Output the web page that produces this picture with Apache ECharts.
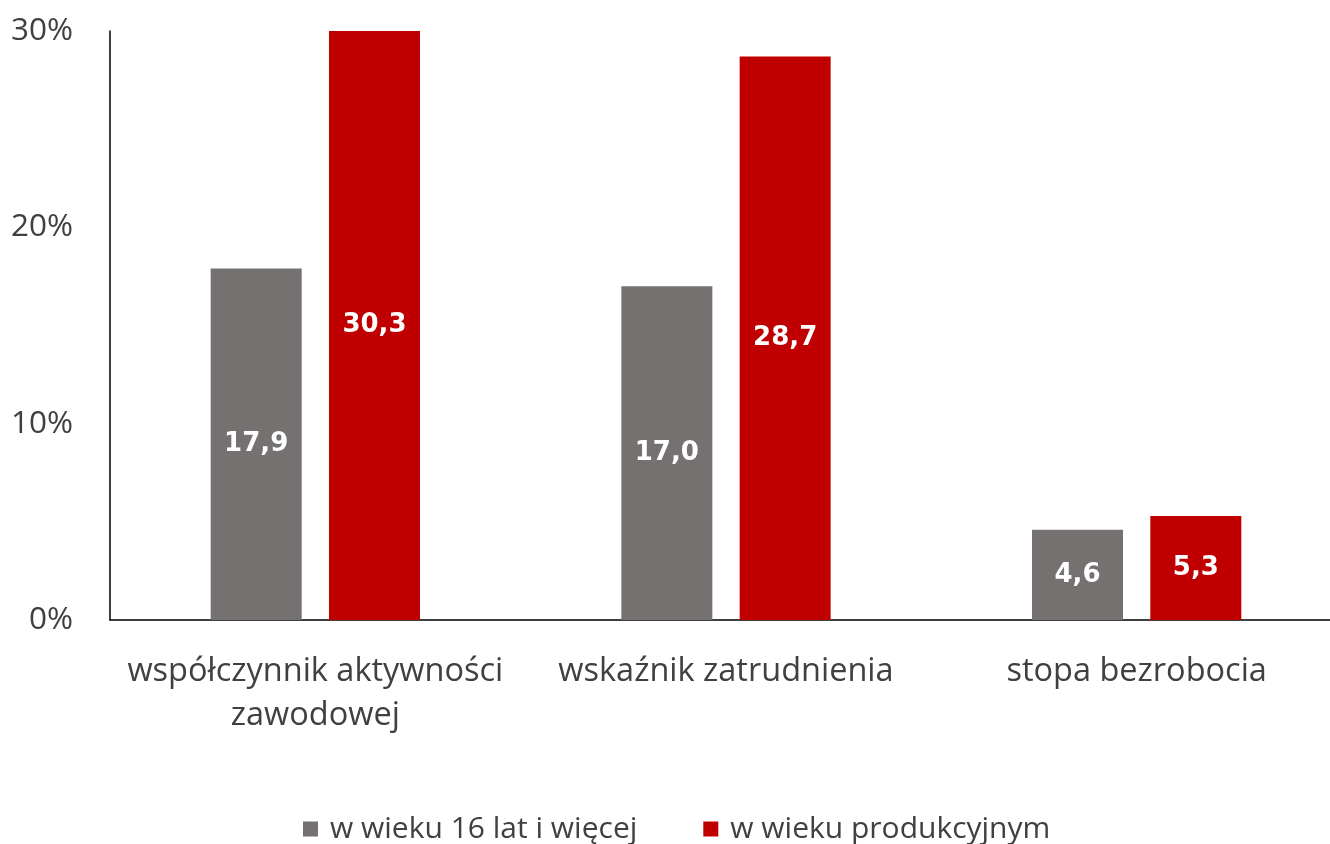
<!DOCTYPE html>
<html>
<head>
<meta charset="utf-8">
<script src="https://cdn.jsdelivr.net/npm/echarts@6/dist/echarts.min.js"></script>
<style>
  html, body { margin: 0; padding: 0; background: #fff; }
  #chart { width: 1330px; height: 844px; }
</style>
</head>
<body>
<div id="chart"></div>
<script>
// Labour market indicators by age group (%)
const categories = ['współczynnik aktywności\nzawodowej', 'wskaźnik zatrudnienia', 'stopa bezrobocia'];
const seriesNames = ['w wieku 16 lat i więcej', 'w wieku produkcyjnym'];
const valuesAll = [17.9, 17.0, 4.6];
const valuesWorkingAge = [30.3, 28.7, 5.3];
const yTicks = [0, 10, 20, 30];

const FONT = '"Open Sans", "Noto Sans", sans-serif';
const chart = echarts.init(document.getElementById('chart'), null, { renderer: 'canvas' });

const valueLabel = {
  show: true,
  position: 'inside',
  color: '#ffffff',
  fontFamily: '"DejaVu Sans", sans-serif',
  fontWeight: 'bold',
  fontSize: 26,
  formatter: p => p.value.toFixed(1).replace('.', ',')
};

chart.setOption({
  animation: false,
  grid: {
    left: 110, width: 1232, top: 31, bottom: 224,
    containLabel: false, outerBoundsMode: 'none'
  },
  legend: {
    top: 814,
    left: 303,
    icon: 'rect',
    itemWidth: 15,
    itemHeight: 15,
    itemGap: 66,
    padding: 0,
    textStyle: { fontFamily: FONT, fontSize: 30, color: '#404040', padding: [0, 0, 0, 7] },
    data: seriesNames
  },
  xAxis: {
    type: 'category',
    data: categories,
    axisLine: { lineStyle: { color: '#000', width: 1.5 } },
    axisTick: { show: false },
    axisLabel: {
      fontFamily: FONT, fontSize: 32.5, color: '#404040',
      margin: 30, lineHeight: 44, interval: 0
    }
  },
  yAxis: {
    type: 'value',
    min: yTicks[0],
    max: yTicks[yTicks.length - 1],
    interval: 10,
    splitLine: { show: false },
    axisLine: { show: true, lineStyle: { color: '#000', width: 1.5 } },
    axisTick: { show: false },
    axisLabel: {
      fontFamily: FONT, fontSize: 31.5, color: '#404040', margin: 37,
      formatter: v => v + '%'
    }
  },
  series: [
    {
      name: seriesNames[0], type: 'bar', data: valuesAll,
      barWidth: 91, barGap: '30%', clip: true,
      itemStyle: { color: '#767171' }, label: valueLabel
    },
    {
      name: seriesNames[1], type: 'bar', data: valuesWorkingAge,
      barWidth: 91, barGap: '30%', clip: true,
      itemStyle: { color: '#C00000' }, label: valueLabel
    }
  ]
});
</script>
</body>
</html>
